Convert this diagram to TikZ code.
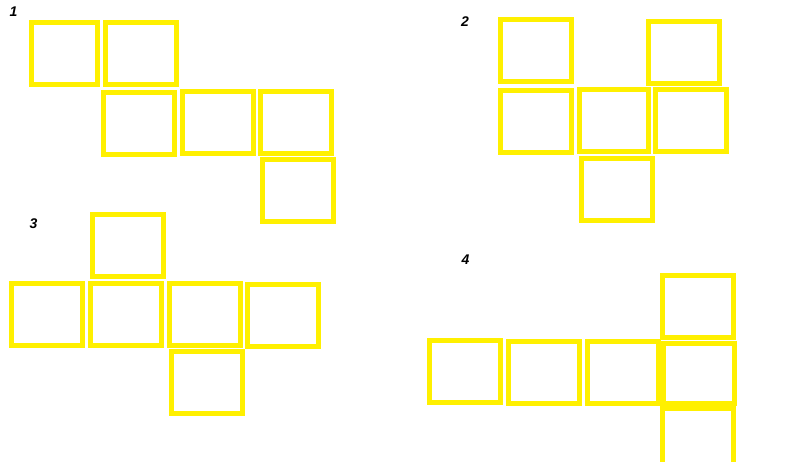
\documentclass[tikz,border=0pt]{standalone}
\usepackage{fontspec}
\setmainfont{Liberation Sans}
\usepackage{tikz}
\usetikzlibrary{backgrounds}
\definecolor{netyellow}{RGB}{255,240,0}

\begin{document}
\begin{tikzpicture}[x=1pt, y=-1pt, background rectangle/.style={fill=white}, show background rectangle]
\useasboundingbox (0,0) rectangle (800,462);
\clip (0,0) rectangle (800,462);

\begin{scope}[every node/.style={draw=netyellow, line width=5pt, inner sep=0pt,
              minimum width=71pt, minimum height=62pt}]
    % net 1
    \node[minimum width=66pt] (A1) at (64.7,53.3) {};
    \node (B1) at (141.2,53.3) {};
    \node (C1) at (139,123.3) {};
    \node (D1) at (218,122.3) {};
    \node (E1) at (295.8,122.3) {};
    \node (F1) at (297.8,190.5) {};
    % net 2
    \node (A2) at (536,50.3) {};
    \node (B2) at (684,52.3) {};
    \node (C2) at (536,121.3) {};
    \node[minimum width=69pt] (D2) at (614,120.3) {};
    \node (E2) at (691,120.3) {};
    \node (F2) at (617,189.3) {};
    % net 3
    \node (A3) at (128,245.3) {};
    \node (B3) at (47,314.3) {};
    \node (C3) at (126,314.3) {};
    \node (D3) at (205,314.3) {};
    \node (E3) at (283,315.5) {};
    \node (F3) at (207,382.3) {};
    % net 4
    \node (A4) at (698,306.3) {};
    \node (B4) at (465,371.3) {};
    \node (C4) at (544,372.3) {};
    \node (D4) at (623,372.3) {};
    \node[minimum height=60pt] (E4) at (699.3,373.3) {};
    \node (F4) at (698,439.2) {};
\end{scope}

\begin{scope}[every node/.style={black, inner sep=0pt, font=\fontsize{14}{14}\selectfont\bfseries\itshape}]
    \node (n1) at (13.5,11.5) {1};
    \node (n2) at (465,22) {2};
    \node (n3) at (33.5,224) {3};
    \node (n4) at (465.5,259.5) {4};
\end{scope}

\end{tikzpicture}
\end{document}
